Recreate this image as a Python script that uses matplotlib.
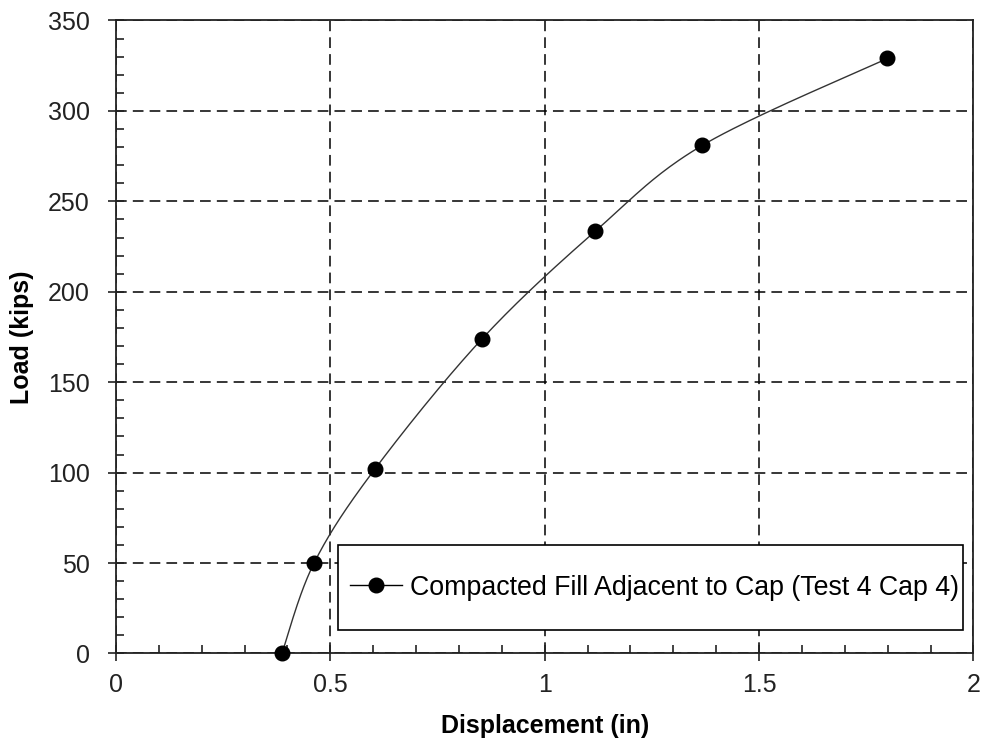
import numpy as np
import matplotlib
matplotlib.use("Agg")
import matplotlib.pyplot as plt
from matplotlib.ticker import MultipleLocator
from matplotlib.patches import Rectangle

plt.rcParams['font.family'] = ['Liberation Sans', 'DejaVu Sans']

# Data
displacement = [0.387, 0.462, 0.604, 0.854, 1.118, 1.368, 1.799]
load = [0.0, 50.0, 102.0, 174.0, 233.5, 281.0, 329.0]
series_label = "Compacted Fill Adjacent to Cap (Test 4 Cap 4)"
x_label = "Displacement (in)"
y_label = "Load (kips)"
x_ticks = [0, 0.5, 1, 1.5, 2]
x_ticklabels = ['0', '0.5', '1', '1.5', '2']

fig = plt.figure(figsize=(9.82, 7.42), dpi=100)
ax = fig.add_axes([0.1181, 0.1193, 0.9913 - 0.1181, 0.9724 - 0.1193])
ax.set_xlim(0, 2)
ax.set_ylim(0, 350)

# Excel-like smoothed line (Catmull-Rom Bezier in display space)
fig.canvas.draw()
P = ax.transData.transform(np.column_stack([displacement, load]))
n = len(P)
curve = []
for i in range(n - 1):
    p0 = P[i - 1] if i > 0 else P[i]
    p1 = P[i]
    p2 = P[i + 1]
    p3 = P[i + 2] if i + 2 < n else P[i + 1]
    c1 = p1 + (p2 - p0) / 6.0
    c2 = p2 - (p3 - p1) / 6.0
    t = np.linspace(0, 1, 40)[:, None]
    seg = ((1 - t) ** 3) * p1 + 3 * ((1 - t) ** 2) * t * c1 + 3 * (1 - t) * t ** 2 * c2 + t ** 3 * p2
    curve.append(seg if i == 0 else seg[1:])
curve = np.vstack(curve)
curve_data = ax.transData.inverted().transform(curve)
ax.plot(curve_data[:, 0], curve_data[:, 1], color='#333333', lw=1.0, zorder=3)
ax.plot(displacement, load, linestyle='none', marker='o', markersize=10.5,
        color='black', zorder=4, clip_on=False)
# legend proxy
ax.plot([], [], color='black', lw=1.0, marker='o', markersize=10.5, label=series_label)

ax.xaxis.set_minor_locator(MultipleLocator(0.1))
ax.yaxis.set_major_locator(MultipleLocator(50))
ax.yaxis.set_minor_locator(MultipleLocator(10))
ax.set_xticks(x_ticks)
ax.set_xticklabels(x_ticklabels)

ax.grid(True, which='major', color='black', linestyle=(0, (7, 4)), linewidth=1.1)
ax.set_axisbelow(True)
for s in ax.spines.values():
    s.set_linewidth(1.3)
    s.set_color('#222222')

ax.tick_params(which='major', direction='inout', length=12, width=1.2,
               labelsize=18, colors='#222222')
ax.tick_params(which='minor', direction='in', length=6, width=1.2, colors='#222222')
ax.tick_params(axis='y', which='major', pad=13)
ax.tick_params(axis='x', which='major', pad=8)

ax.set_xlabel(x_label, fontsize=18, fontweight='bold', labelpad=12)
ax.set_ylabel(y_label, fontsize=18, fontweight='bold', labelpad=10)

# legend box
x0, y0, x1, y1 = 0.259, 0.037, 0.988, 0.171
ax.add_patch(Rectangle((x0, y0), x1 - x0, y1 - y0, transform=ax.transAxes,
                       facecolor='white', edgecolor='black', linewidth=1.2, zorder=5))
leg = ax.legend(loc='center left', bbox_to_anchor=(x0, (y0 + y1) / 2),
                fontsize=19.3, frameon=False, borderpad=0.0, handlelength=1.95,
                handletextpad=0.3, borderaxespad=0.45)
leg.set_zorder(6)

fig.savefig('out.png', dpi=100)
